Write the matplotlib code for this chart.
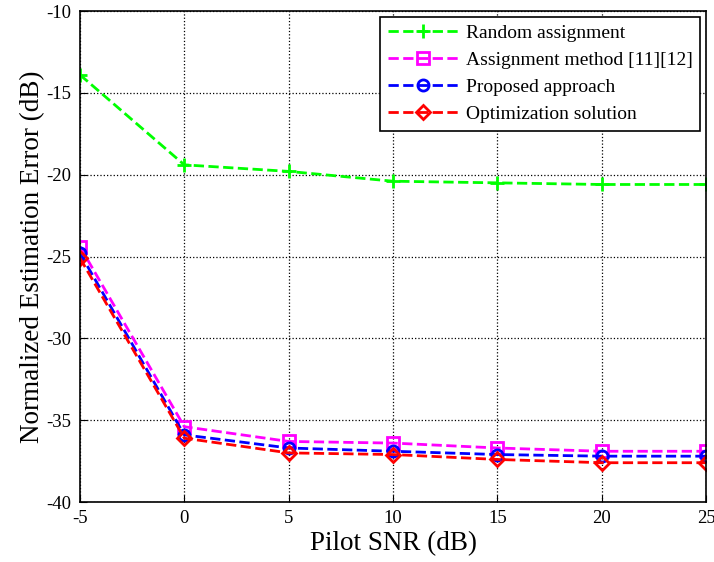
import matplotlib
matplotlib.use("Agg")
import matplotlib.pyplot as plt

# Dados
snr = [-5, 0, 5, 10, 15, 20, 25]
random_assign = [-13.9, -19.4, -19.8, -20.4, -20.5, -20.6, -20.6]
assign_method = [-24.4, -35.4, -36.3, -36.4, -36.7, -36.9, -36.9]
proposed = [-24.8, -35.9, -36.7, -36.9, -37.1, -37.2, -37.2]
optimization = [-25.1, -36.1, -37.0, -37.1, -37.4, -37.6, -37.6]

labels = ["Random assignment", "Assignment method [11][12]",
          "Proposed approach", "Optimization solution"]

plt.rcParams['font.family'] = ['Liberation Serif', 'DejaVu Serif']
plt.rcParams['axes.unicode_minus'] = False

fig = plt.figure(figsize=(7.14, 5.62), dpi=100)
ax = fig.add_axes([80 / 714, 60 / 562, 626 / 714, 491 / 562])

ax.plot(snr, random_assign, '--', color='#00ff00', lw=2, marker='+', ms=10, mew=2, label=labels[0])
ax.plot(snr, assign_method, '--', color='#ff00ff', lw=2, marker='s', ms=8, mew=2, mfc='none', label=labels[1])
ax.plot(snr, proposed, '--', color='#0000ff', lw=2, marker='o', ms=8, mew=2, mfc='none', label=labels[2])
ax.plot(snr, optimization, '--', color='#ff0000', lw=2, marker='D', ms=7, mew=2, mfc='none', label=labels[3])

ax.set_xlim(-5, 25)
ax.set_ylim(-40, -10)
ax.set_xticks(range(-5, 26, 5))
ax.set_yticks(range(-40, -9, 5))
ax.grid(True, color='black', linestyle=':', linewidth=0.9)
ax.tick_params(labelsize=13.5, direction='in', length=5, pad=6)
for s in ax.spines.values():
    s.set_linewidth(1.2)

ax.set_xlabel("Pilot SNR (dB)", fontsize=19.5, labelpad=3)
ax.set_ylabel("Normalized Estimation Error (dB)", fontsize=19.5, labelpad=1)

leg = ax.legend(loc='upper right', fontsize=14, fancybox=False, edgecolor='black',
                framealpha=1, borderaxespad=0.3, handlelength=3.6, labelspacing=0.48,
                borderpad=0.4, handletextpad=0.4)
leg.get_frame().set_linewidth(1.2)

fig.savefig("out.png", dpi=100)
